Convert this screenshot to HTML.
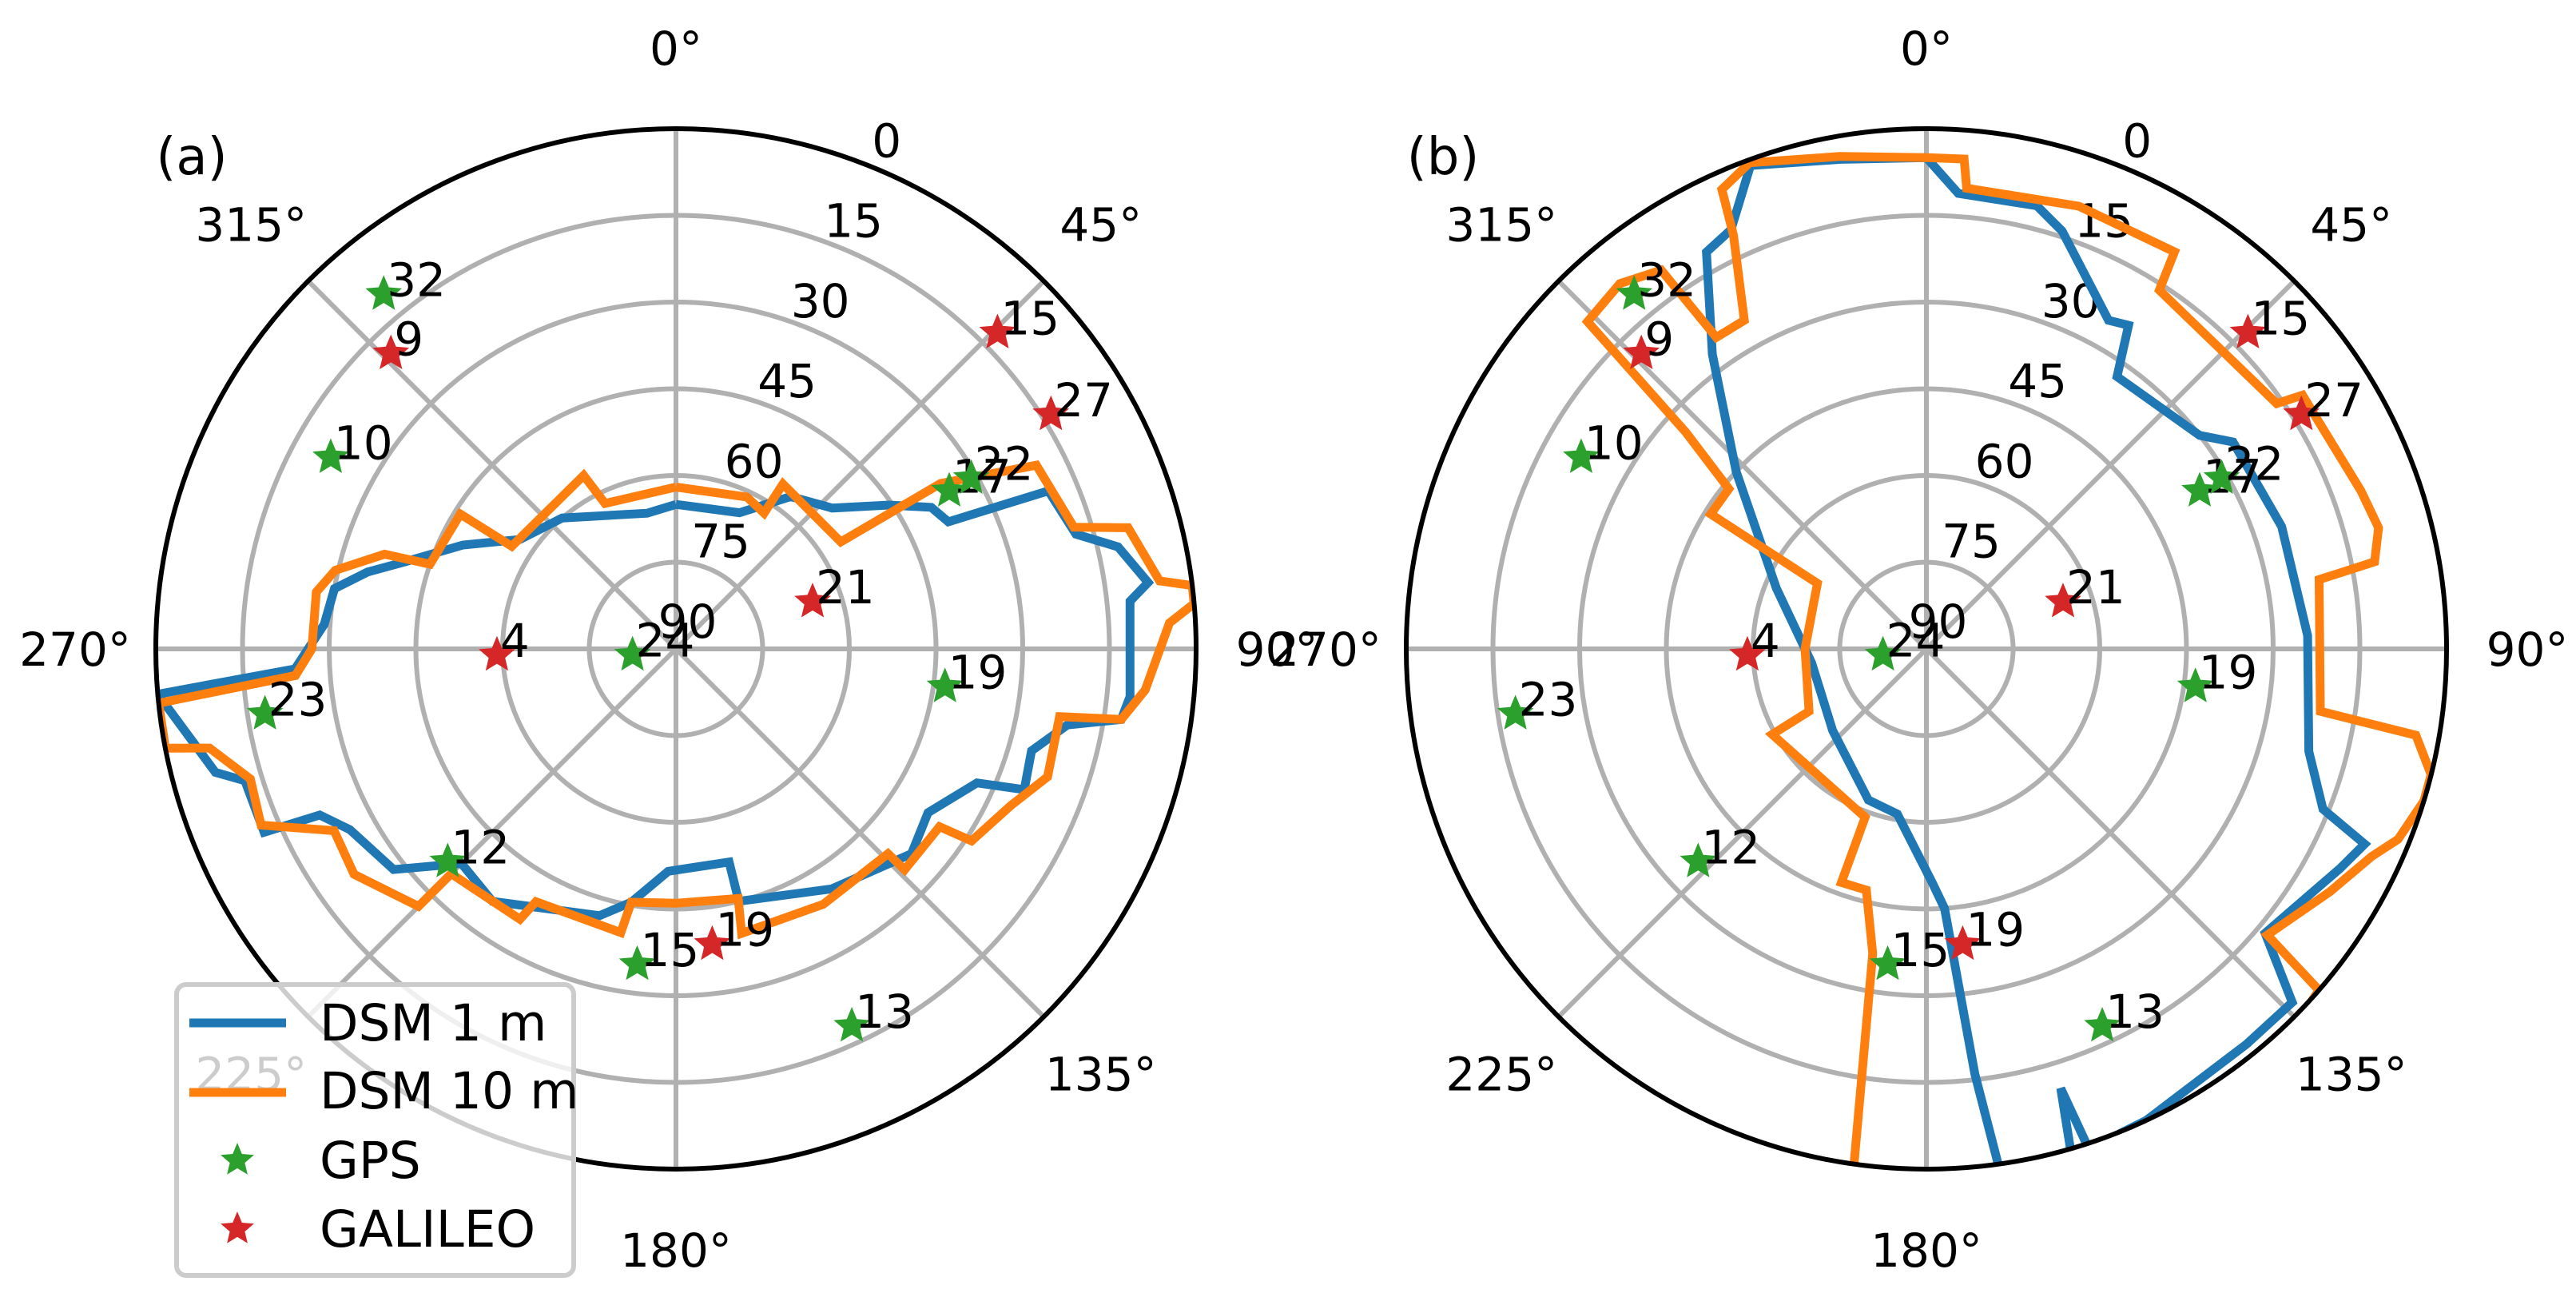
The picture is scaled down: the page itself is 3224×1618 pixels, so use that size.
<!DOCTYPE html>
<html><head><meta charset="utf-8">
<style>
html,body{margin:0;padding:0;background:#fff;}
svg{display:block;font-family:"DejaVu Sans","Liberation Sans",sans-serif;}
</style></head>
<body>
<svg id="fig" xmlns="http://www.w3.org/2000/svg" width="3224" height="1618" viewBox="0 0 3224 1618">
<rect width="3224" height="1618" fill="#fff"/>
</svg>
<script>
// ---- data ----
// Panel (a) DSM 1 m horizon (azimuth deg, elevation deg)
const a1Az = [0,25,37,48,56,61,65,67,74,77,82,84,96,99,101,106,112,114,123,131,147,166,166,182,190,196,216,225,232,241,245,246,253,255,265,267,274,280,284,288,296,305,319,348,360];
const a1El = [65,64,57,53.6,45.5,39.5,38,20,18,11.5,7.5,11,11,12,21,26,25,33,38,36,40.5,45,52,51.5,45.5,42,36,37.5,28,25.5,22,12,12,7.5,0,24,29,30,35,41,49,57,60,66,65];
// Panel (a) DSM 10 m
const a10Az = [0,25,33,33,57,58,63,73,75,82,83,85,87,95,99,100,109,115,123,124,134,134,150,167,166,180,190,191,209,210,225,225,235,242,247,253,258,259,264,266,270,279,283,288,289,302,302,332,334,360];
const a10El = [62,61,62,56,56,36,20,18,9,5.5,0,0,4.5,8.5,12,22.6,22,26,29,35,35,39,39,39.5,45.5,46,45.5,40,40,36,35,27,22,23,12,13,7.5,0,0,24,27,27,29.5,37,45,46,56.5,56,62,62];
// Panel (b) DSM 1 m
const b1Az = [0,4,14,18,29,32,35,52,56,71,88,105,112,114,118,130,134,141,155,162,163,164,172,173.5,176,178.6,190,201,229,263,292,313,324,331,335,340,350,360];
const b1El = [5,11,11,14,25,24,32.5,30,26,25,24,21.5,16,7,9,13.5,2,2,0,-1,10.5,-1,-1,16,45,49.6,61,62,68.5,70,62,45,27,11.5,10,1,4,5];
// Panel (b) DSM 10 m
const b10Az = [0,4.4,5,19,32,33,55,56,70,75,79,80,99,100,104,107,112,115,121,130,131,140,160,187,188,190,194,200,200,241,242,270,301,302,309,312,314,320,325,326,331,335,336,340,350,360];
const b10El = [5,5,10,9,9,16,16,11.5,10,9,11,21,21,4,0,0,2,5,8.5,13,0,-3,-5,-3,0,36.5,47,47,59,59.5,67,69,68,46,46,34,8.5,7.5,10,25,25,11,3,0.5,3.5,5];
// Satellites
const gpsIds = ["32","10","23","24","12","15","13","19","17","22"];
const gpsAz = [320.5,299,261,262,227,187,155,98,60,60];
const gpsEl = [10.5,21.7,18,82.4,36,35,18,43,35.4,31];
const galIds = ["9","15","27","21","4","19"];
const galAz = [316,45.5,58,71,268,173];
const galEl = [19,12,13.5,65,59,38.5];
// Tick labels
const azTicks = [0,45,90,135,180,225,270,315];
const elTicks = [0,15,30,45,60,75,90];

// ---- drawing ----
const NS = "http://www.w3.org/2000/svg";
const svg = document.getElementById("fig");
const R = 651, CY = 812;
const panels = [
  {cx:846, label:"(a)", lx:240, s1:[a1Az,a1El], s10:[a10Az,a10El]},
  {cx:2411, label:"(b)", lx:1806, s1:[b1Az,b1El], s10:[b10Az,b10El]}
];
function mk(tag, attrs, parent){
  const e = document.createElementNS(NS, tag);
  for (const k in attrs) e.setAttribute(k, attrs[k]);
  (parent||svg).appendChild(e);
  return e;
}
function rOf(el){ return R*(90-el)/90; }
function pt(cx, az, el){
  const r = rOf(el), t = az*Math.PI/180;
  return [cx + r*Math.sin(t), CY - r*Math.cos(t)];
}
function starPts(x, y, ro){
  const ri = ro*0.45, p = [];
  for (let i=0;i<10;i++){
    const rr = i%2===0 ? ro : ri;
    const t = i*Math.PI/5;
    p.push((x+rr*Math.sin(t)).toFixed(1)+","+(y-rr*Math.cos(t)).toFixed(1));
  }
  return p.join(" ");
}

panels.forEach((P, pi) => {
  const g = mk("g", {});
  
  
  const cid = "clip"+pi;
  const defs = mk("defs", {}, g);
  const cp = mk("clipPath", {id:cid}, defs);
  mk("circle", {cx:P.cx, cy:CY, r:R}, cp);

  elTicks.forEach(v => {
    if (v===0 || v===90) return;
    const c = mk("circle", {cx:P.cx, cy:CY, r:rOf(v), fill:"none", stroke:"#b0b0b0", "stroke-width":6}, g);
    
    
  });
  azTicks.forEach(a => {
    const [x,y] = pt(P.cx, a, 0);
    const l = mk("line", {x1:P.cx, y1:CY, x2:x, y2:y, stroke:"#b0b0b0", "stroke-width":6}, g);
    
    
  });
  azTicks.forEach(a => {
    const t = a*Math.PI/180;
    const x = P.cx + 752*Math.sin(t), y = CY - 752*Math.cos(t);
    const tx = mk("text", {x:x, y:y+21, "font-size":58, "text-anchor":"middle", fill:"#000"}, g);
    tx.textContent = a + "°";
    
    
  });
  elTicks.forEach(v => {
    const r = rOf(v) + 38, t = 22.5*Math.PI/180;
    const x = P.cx + r*Math.sin(t), y = CY - r*Math.cos(t);
    const tx = mk("text", {x:x, y:y+21, "font-size":58, "text-anchor":"middle", fill:"#000"}, g);
    tx.textContent = String(v);
    
    
  });

  const cg = mk("g", {"clip-path":"url(#"+cid+")"}, g);
  [[P.s1,"#1f77b4","dsm-1m-horizon"],[P.s10,"#ff7f0e","dsm-10m-horizon"]].forEach(([s,col,nm]) => {
    const d = s[0].map((a,i) => { const [x,y]=pt(P.cx,a,s[1][i]); return (i?"L":"M")+x.toFixed(1)+" "+y.toFixed(1); }).join(" ");
    const p = mk("path", {d:d, fill:"none", stroke:col, "stroke-width":11, "stroke-linejoin":"miter", "stroke-miterlimit":3}, cg);
    
    
  });

  const oc = mk("circle", {cx:P.cx, cy:CY, r:R, fill:"none", stroke:"#000", "stroke-width":6}, g);
  
  

  [[gpsIds,gpsAz,gpsEl,"#2ca02c","gps-satellite"],[galIds,galAz,galEl,"#d62728","galileo-satellite"]].forEach(([ids,az,el,col,nm]) => {
    ids.forEach((id,i) => {
      const [x,y] = pt(P.cx, az[i], el[i]);
      const s = mk("polygon", {points:starPts(x,y,24), fill:col}, g);
      
      
      const tx = mk("text", {x:x+4, y:y+2, "font-size":58, fill:"#000"}, g);
      tx.textContent = id;
      
      
    });
  });

  const pl = mk("text", {x:P.lx, y:218, "font-size":64, "text-anchor":"middle", fill:"#000"}, g);
  pl.textContent = P.label;
  
  
});

const lg = mk("g", {});


mk("rect", {x:221, y:1232, width:497, height:364, rx:12, fill:"#fff", "fill-opacity":0.8, stroke:"#cccccc", "stroke-width":6}, lg);
const legItems = [["DSM 1 m","line","#1f77b4",1302,1280],["DSM 10 m","line","#ff7f0e",1387,1367],["GPS","star","#2ca02c",1474,1452],["GALILEO","star","#d62728",1560,1538]];
legItems.forEach(([txt,kind,col,by,my]) => {
  if (kind==="line"){
    const l = mk("line", {x1:237, y1:my, x2:358, y2:my, stroke:col, "stroke-width":11}, lg);
    
    
  } else {
    const s = mk("polygon", {points:starPts(297,my,22), fill:col}, lg);
    
    
  }
  const t = mk("text", {x:400, y:by, "font-size":63, fill:"#000"}, lg);
  t.textContent = txt;
  
  
});
</script>
</body></html>
